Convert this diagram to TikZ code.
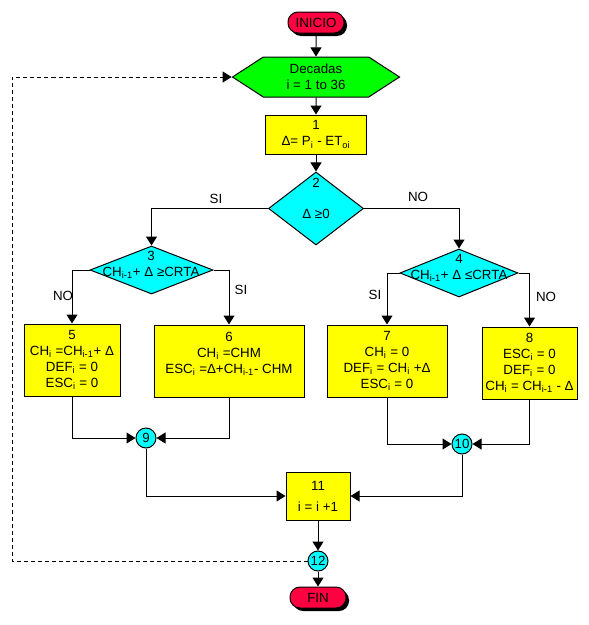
\documentclass[tikz,border=0pt]{standalone}
\usepackage{fontspec}
\setmainfont{Liberation Sans}
\usetikzlibrary{arrows.meta,shapes.geometric,shapes.symbols,shadows}

\definecolor{termred}{RGB}{255,0,64}
\definecolor{loopgreen}{RGB}{0,255,0}
\definecolor{procyellow}{RGB}{255,255,0}
\definecolor{condcyan}{RGB}{0,255,255}

\tikzset{
  every node/.style={font=\fontsize{10}{12}\selectfont},
  term/.style={rectangle, rounded corners=7.5pt, draw, fill=termred, minimum width=42pt, minimum height=15.75pt, inner sep=0pt,
    drop shadow={shadow xshift=2.25pt, shadow yshift=-2.25pt, opacity=1, fill=black}},
  loopbox/.style={signal, signal to=west and east, signal pointer angle=66, draw, fill=loopgreen, align=center, inner sep=0pt, minimum width=125.25pt, minimum height=30pt},
  proc/.style={rectangle, draw, fill=procyellow, align=center, inner sep=0pt},
  cond/.style={diamond, draw, fill=condcyan, inner sep=0pt},
  conn/.style={circle, draw, fill=condcyan, minimum size=15pt, inner sep=0pt},
  flow/.style={-{Triangle[length=6.75pt,width=8.25pt]}},
  lbl/.style={inner sep=0pt, align=center},
}

\begin{document}
\begin{tikzpicture}[x=0.75pt,y=-0.75pt,line width=0.75pt]
  \useasboundingbox (0,0) rectangle (589,625);

  %Terminals
  \node[term] (ini) at (316,22.5) {INICIO};
  \node[term] (fin) at (318,597.5) {FIN};

  %Loop header
  \node[loopbox] (hex) at (316,77) {Decadas\\i = 1 to 36};

  %Process boxes
  \node[proc, minimum width=75.75pt, minimum height=29.25pt] (b1) at (316,134.5) {1\\Δ= P\textsubscript{i} - ET\textsubscript{oi}};
  \node[proc, minimum width=72pt, minimum height=54pt] (b5) at (72,360) {5\\CH\textsubscript{i} =CH\textsubscript{i-1}+ Δ\\DEF\textsubscript{i} = 0\\ESC\textsubscript{i} = 0};
  \node[proc, minimum width=112.5pt, minimum height=54pt] (b6) at (229,361) {6\\CH\textsubscript{i} =CHM\\ESC\textsubscript{i} =Δ+CH\textsubscript{i-1}- CHM\\\mbox{}};
  \node[proc, minimum width=90pt, minimum height=54pt] (b7) at (387,361) {7\\CH\textsubscript{i} = 0\\DEF\textsubscript{i} = CH\textsubscript{i} +Δ\\ESC\textsubscript{i} = 0};
  \node[proc, minimum width=71.25pt, minimum height=54pt] (b8) at (529.5,363) {8\\ESC\textsubscript{i} = 0\\DEF\textsubscript{i} = 0\\CH\textsubscript{i} = CH\textsubscript{i-1} - Δ};
  \node[proc, minimum width=48pt, minimum height=36pt] (b11) at (318,496) {11\\[3.75pt]i = i +1};

  %Decisions
  \node[cond, minimum width=71.25pt, minimum height=54.75pt] (d2) at (316,208.5) {};
  \node[lbl] (d2t) at (316,198.5) {2\\[11.25pt]Δ ≥0};
  \node[cond, minimum width=92.25pt, minimum height=36pt] (d3) at (151.5,270) {};
  \node[lbl] (d3t) at (151,264.5) {3\\CH\textsubscript{i-1}+ Δ ≥CRTA};
  \node[cond, minimum width=88.5pt, minimum height=36pt] (d4) at (459,273) {};
  \node[lbl] (d4t) at (459,267.5) {4\\CH\textsubscript{i-1}+ Δ ≤CRTA};

  %Connectors
  \node[conn] (c9) at (146,438) {9};
  \node[conn] (c10) at (462,444) {10};
  \node[conn] (c12) at (318,561) {12};
  \coordinate (back) at (12,561);

  %Branch labels
  \node[lbl] (si2) at (216,199) {SI};
  \node[lbl] (no2) at (418,197) {NO};
  \node[lbl] (no3) at (63,296) {NO};
  \node[lbl] (si3) at (241,290) {SI};
  \node[lbl] (si4) at (375,295) {SI};
  \node[lbl] (no4) at (546,297) {NO};

  %Flow lines
  \draw[flow] (ini) -- (hex);
  \draw[flow] (hex) -- (b1);
  \draw[flow] (b1) -- (d2);
  \draw[flow] (d2.west) -| (d3.north);
  \draw[flow] (d2.east) -| (d4.north);
  \draw[flow] (d3.west) -| (b5.north);
  \draw[flow] (d3.east) -| (b6.north);
  \draw[flow] (d4.west) -| (b7.north);
  \draw[flow] (d4.east) -| (b8.north);
  \draw[flow] (b5.south) |- (c9.west);
  \draw[flow] (b6.south) |- (c9.east);
  \draw[flow] (b7.south) |- (c10.west);
  \draw[flow] (b8.south) |- (c10.east);
  \draw[flow] (c9.south) |- (b11.west);
  \draw[flow] (c10.south) |- (b11.east);
  \draw[flow] (b11) -- (c12);
  \draw[flow] (c12) -- (fin);
  \draw[flow, dash pattern=on 3pt off 2.25pt] (c12.west) -- (back) |- (hex.west);
\end{tikzpicture}
\end{document}
